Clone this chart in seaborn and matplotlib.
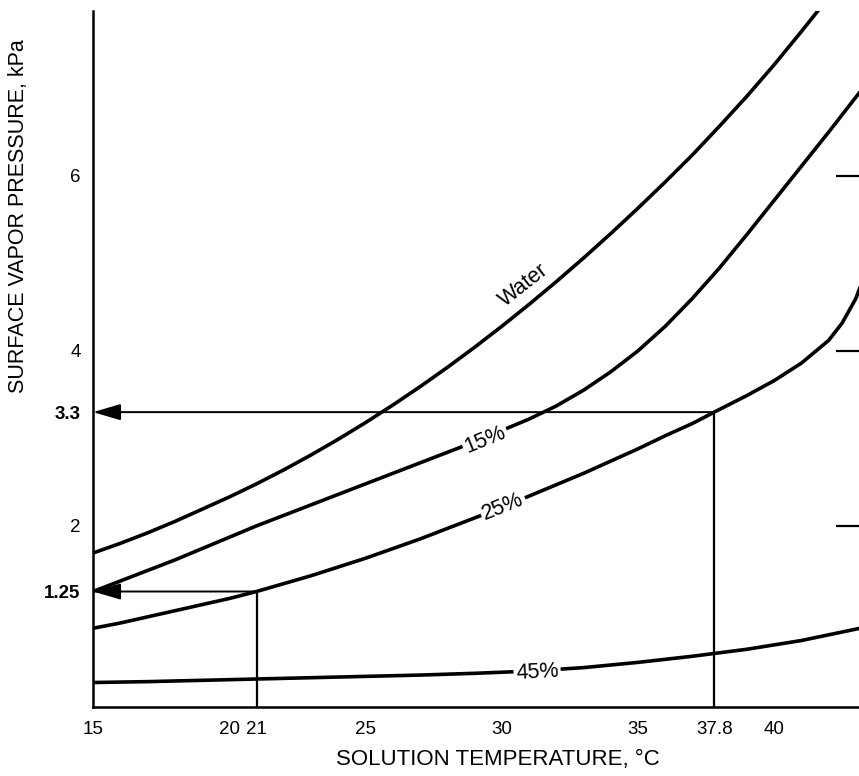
import matplotlib
matplotlib.use('Agg')
import matplotlib.pyplot as plt
import pandas as pd
import seaborn as sns

# curves: solution temperature (C) -> surface vapor pressure (kPa)
water_t = [15, 16, 17, 18, 19, 20, 21, 22, 23, 24, 25, 26, 27, 28, 29, 30,
           31, 32, 33, 34, 35, 36, 37, 38, 39, 40, 41, 42]
water_p = [1.69, 1.80, 1.92, 2.05, 2.19, 2.33, 2.48, 2.64, 2.81, 2.99, 3.18, 3.38,
           3.59, 3.81, 4.04, 4.28, 4.53, 4.79, 5.06, 5.34, 5.63, 5.93, 6.24, 6.57,
           6.91, 7.27, 7.65, 8.04]
c15_t = [15, 16, 17, 18, 19, 20, 21, 22, 23, 24, 25, 26, 27, 28, 29, 30,
         31, 32, 33, 34, 35, 36, 37, 38, 39, 40, 41, 42, 43, 43.3]
c15_p = [1.25, 1.37, 1.49, 1.61, 1.74, 1.87, 2.00, 2.12, 2.24, 2.36, 2.48, 2.60,
         2.72, 2.84, 2.96, 3.09, 3.22, 3.37, 3.55, 3.76, 4.00, 4.28, 4.60, 4.95,
         5.33, 5.72, 6.11, 6.50, 6.90, 7.02]
c25_t = [15, 16, 17, 18, 19, 20, 21, 22, 23, 24, 25, 26, 27, 28, 29, 30,
         31, 32, 33, 34, 35, 36, 37, 37.8, 39, 40, 41, 42, 42.5, 43, 43.3]
c25_p = [0.83, 0.89, 0.96, 1.03, 1.10, 1.17, 1.25, 1.34, 1.43, 1.53, 1.63, 1.74,
         1.85, 1.97, 2.09, 2.21, 2.34, 2.47, 2.60, 2.74, 2.88, 3.03, 3.17, 3.30,
         3.49, 3.66, 3.86, 4.12, 4.32, 4.60, 4.85]
c45_t = [15, 17, 19, 21, 23, 25, 27, 29, 31, 33, 35, 37, 39, 41, 43, 43.3]
c45_p = [0.21, 0.22, 0.235, 0.25, 0.265, 0.28, 0.295, 0.315, 0.34, 0.38, 0.44,
         0.51, 0.59, 0.69, 0.82, 0.84]

# worked example: temperature -> pressure read on the 25% curve
example_t = [21, 37.8]
example_p = [1.25, 3.3]

x_ticks = [15, 20, 21, 25, 30, 35, 37.8, 40]
x_labels = ['15', '20', '21', '25', '30', '35', '37.8', '40']
y_ticks = [1.25, 2, 3.3, 4, 6]
y_labels = ['1.25', '2', '3.3', '4', '6']

# curve label text, position (temp, pressure) and angle
curve_labels = ['Water', '15%', '25%', '45%']
label_t = [30.8, 29.4, 30.05, 31.3]
label_p = [4.75, 2.98, 2.22, 0.33]
label_rot = [38, 22, 22, 3]

frames = []
for name, t, p in [('Water', water_t, water_p), ('15%', c15_t, c15_p),
                   ('25%', c25_t, c25_p), ('45%', c45_t, c45_p)]:
    frames.append(pd.DataFrame({'temp': t, 'pressure': p, 'curve': name}))
df = pd.concat(frames, ignore_index=True)

sns.set_theme(style='white')
plt.rcParams['font.family'] = ['Liberation Sans', 'DejaVu Sans']

fig = plt.figure(figsize=(8.59, 7.76), dpi=100)
ax = fig.add_axes([0.1083, 0.0889, 0.8976, 0.8969])

sns.lineplot(data=df, x='temp', y='pressure', hue='curve',
             palette={c: 'black' for c in curve_labels}, linewidth=2.6,
             estimator=None, legend=False, ax=ax)

ymin, ymax = -0.07, 7.884
ax.set_xlim(15, 43.3)
ax.set_ylim(ymin, ymax)

# vertical lines up from the temperature and arrows across to the pressure axis
ax.vlines(example_t, ymin, example_p, color='black', lw=1.6)
for t, p in zip(example_t, example_p):
    ax.annotate('', xy=(15, p), xytext=(t, p),
                arrowprops=dict(arrowstyle='-|>,head_length=0.85,head_width=0.25',
                                mutation_scale=20, lw=1.4, color='black',
                                shrinkA=0, shrinkB=0))

for txt, t, p, r in zip(curve_labels, label_t, label_p, label_rot):
    kw = {}
    if txt != 'Water':
        kw['bbox'] = dict(facecolor='white', edgecolor='none', pad=1.5)
    ax.text(t, p, txt, rotation=r, rotation_mode='anchor', ha='center', va='center',
            fontsize=15.5, color='black', **kw)

ax.set_xticks(x_ticks)
ax.set_xticklabels(x_labels, fontsize=13.5)
ax.set_yticks(y_ticks)
ax.set_yticklabels(y_labels, fontsize=13.5)

ax.tick_params(axis='x', direction='in', length=12, width=1.6, pad=10, colors='black')
ax.tick_params(axis='y', direction='in', length=20, width=1.6, pad=9, colors='black',
               right=True)

for val, tick in zip(x_ticks, ax.xaxis.get_major_ticks()):
    if val in (15, 21, 37.8):
        tick.tick1line.set_visible(False)
for val, tick, lab in zip(y_ticks, ax.yaxis.get_major_ticks(), ax.get_yticklabels()):
    if val in (1.25, 3.3):
        tick.tick1line.set_visible(False)
        tick.tick2line.set_visible(False)
        lab.set_fontweight('bold')

for side in ['top', 'right']:
    ax.spines[side].set_visible(False)
for side in ['left', 'bottom']:
    ax.spines[side].set_color('black')
    ax.spines[side].set_linewidth(1.8)

ax.set_xlabel('SOLUTION TEMPERATURE, \u00b0C', fontsize=16, color='black')
ax.set_ylabel('SURFACE VAPOR PRESSURE, kPa', fontsize=15.5, color='black')
ax.xaxis.set_label_coords(0.525, -0.061)
ax.yaxis.set_label_coords(-0.083, 0.705)

fig.savefig('out.png', dpi=100, facecolor='white')
